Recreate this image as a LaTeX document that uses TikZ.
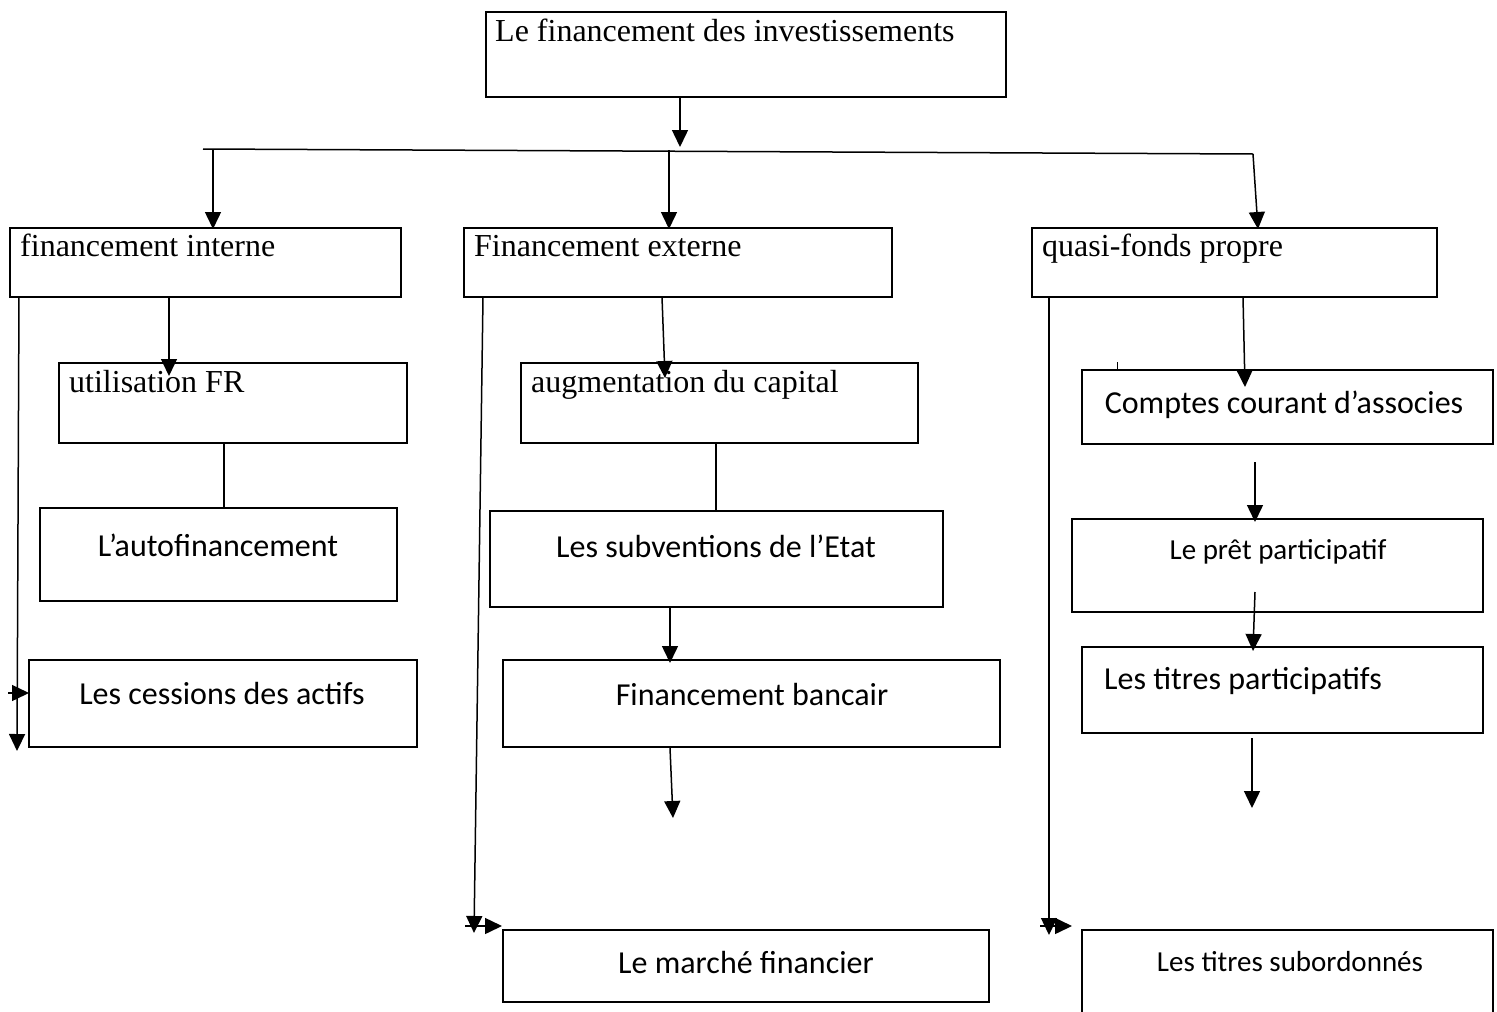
\documentclass[tikz,border=0pt]{standalone}
\usepackage{fontspec}
\setmainfont{Liberation Serif}
\newfontfamily\calfont{Carlito}
\usetikzlibrary{arrows.meta}
\begin{document}
\begin{tikzpicture}[x=1pt,y=-1pt,
  rect/.style={draw,line width=1.3pt},
  ser/.style={anchor=base west,inner sep=0pt,font=\fontsize{32}{34}\selectfont},
  san/.style={inner sep=0pt,font=\calfont\fontsize{32}{34}\selectfont},
  sans/.style={inner sep=0pt,font=\calfont\fontsize{29}{32}\selectfont},
  ln/.style={line width=1.5pt},
  arr/.style={line width=1.5pt,-{Triangle[length=17pt,width=16pt]}}]
\useasboundingbox (0,0) rectangle (1497,1012);
% boxes
\draw[rect] (486,12) rectangle (1006,97);
\node[ser] (tTop) at (495,41) {Le financement des investissements};

\draw[rect] (10,228) rectangle (401,297);
\node[ser] (tInt) at (20,256) {financement interne};
\draw[rect] (464,228) rectangle (892,297);
\node[ser] (tExt) at (474,256) {Financement externe};
\draw[rect] (1032,228) rectangle (1437,297);
\node[ser] (tQua) at (1042,256) {quasi-fonds propre};

\draw[rect] (59,363) rectangle (407,443);
\node[ser] (tFR) at (69,392) {utilisation FR};
\draw[rect] (521,363) rectangle (918,443);
\node[ser] (tCap) at (531,392) {augmentation du capital};
\draw[rect] (1082,370) rectangle (1493,444);
\node[san] (tCom) at (1284,405) {Comptes courant d’associes};

\draw[rect,line width=1.8pt] (40,508) rectangle (397,601);
\node[san] (tAuto) at (218,545) {L’autofinancement};
\draw[rect,line width=1.8pt] (490,511) rectangle (943,607);
\node[san] (tSub) at (716,546) {Les subventions de l’Etat};
\draw[rect] (1072,519) rectangle (1483,612);
\node[sans] (tPret) at (1278,552) {Le prêt participatif};

\draw[rect] (29,660) rectangle (417,747);
\node[san] (tCes) at (222,693) {Les cessions des actifs};
\draw[rect] (503,660) rectangle (1000,747);
\node[san] (tBan) at (752,694) {Financement bancair};
\draw[rect] (1082,647) rectangle (1483,733);
\node[san,anchor=west] (tTit) at (1104,681) {Les titres participatifs};

\draw[rect] (503,930) rectangle (989,1002);
\node[san] (tMar) at (746,962) {Le marché financier};
\draw[rect] (1082,930) rectangle (1493,1013);
\node[sans] (tSubo) at (1290,962) {Les titres subordonnés};

% connectors
\coordinate (a1) at (680,97); \coordinate (a2) at (680,147);
\draw[arr] (a1) -- (a2);
\coordinate (hL) at (203,149); \coordinate (hR) at (1253,154);
\draw[ln] (hL) -- (hR);
\coordinate (d1) at (213,149); \coordinate (d1e) at (213,229);
\draw[arr] (d1) -- (d1e);
\coordinate (d2) at (669,150); \coordinate (d2e) at (669,229);
\draw[arr] (d2) -- (d2e);
\coordinate (d3e) at (1258,229);
\draw[arr] (hR) -- (d3e);

\coordinate (e1) at (169,297); \coordinate (e1e) at (169,376);
\draw[arr] (e1) -- (e1e);
\coordinate (e2) at (662,297); \coordinate (e2e) at (665,378);
\draw[arr] (e2) -- (e2e);
\coordinate (e3) at (1243,297); \coordinate (e3e) at (1245,387);
\draw[arr] (e3) -- (e3e);
\coordinate (tk1) at (1117,362); \coordinate (tk2) at (1117,371);
\draw[line width=0.8pt] (tk1) -- (tk2);

\coordinate (f1) at (224,443); \coordinate (f1e) at (224,508);
\draw[ln] (f1) -- (f1e);
\coordinate (f2) at (716,443); \coordinate (f2e) at (716,511);
\draw[ln] (f2) -- (f2e);
\coordinate (g1) at (1255,462); \coordinate (g1e) at (1255,522);
\draw[arr] (g1) -- (g1e);
\coordinate (g2) at (1255,592); \coordinate (g2e) at (1253,651);
\draw[arr] (g2) -- (g2e);
\coordinate (g3) at (1252,738); \coordinate (g3e) at (1252,808);
\draw[arr] (g3) -- (g3e);
\coordinate (m1) at (670,608); \coordinate (m1e) at (670,663);
\draw[arr] (m1) -- (m1e);
\coordinate (m2) at (670,748); \coordinate (m2e) at (673,818);
\draw[arr] (m2) -- (m2e);

\coordinate (L1) at (19,297); \coordinate (L1e) at (17,751);
\draw[arr] (L1) -- (L1e);
\coordinate (L2) at (8,693); \coordinate (L2e) at (29,693);
\draw[arr] (L2) -- (L2e);
\coordinate (M1) at (483,297); \coordinate (M1e) at (474,933);
\draw[arr] (M1) -- (M1e);
\coordinate (M2) at (465,926); \coordinate (M2e) at (502,926);
\draw[arr] (M2) -- (M2e);
\coordinate (R1) at (1049,297); \coordinate (R1e) at (1049,935);
\draw[arr] (R1) -- (R1e);
\coordinate (R2) at (1040,926); \coordinate (R2e) at (1072,926);
\draw[arr] (R2) -- (R2e);
\end{tikzpicture}
\end{document}
